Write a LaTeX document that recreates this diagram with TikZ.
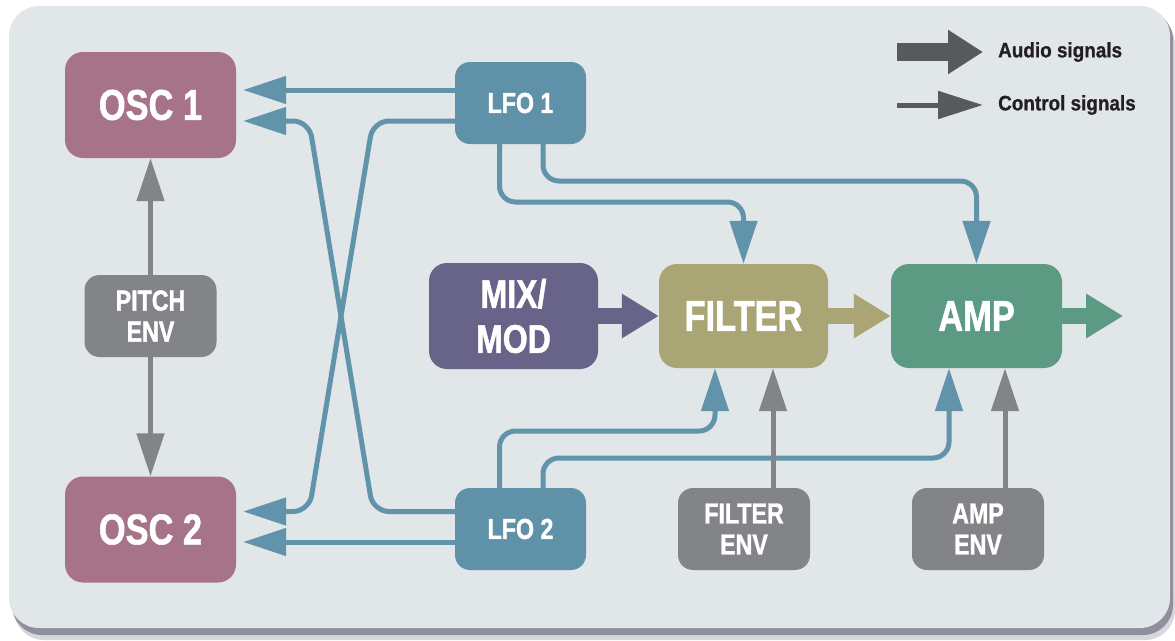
\documentclass[tikz,border=0pt]{standalone}
\usepackage{fontspec}
\setmainfont{Liberation Sans}
\newfontfamily\condfont[FakeStretch=0.8,BoldFeatures={FakeBold=1.3}]{Liberation Sans}
\newfontfamily\legfont[FakeStretch=0.9,BoldFeatures={FakeBold=0.8}]{Liberation Sans}
\usetikzlibrary{arrows.meta}
\definecolor{panelc}{HTML}{E1E6E8}
\definecolor{shadowc}{HTML}{8E909C}
\definecolor{oscc}{HTML}{A67389}
\definecolor{lfoc}{HTML}{5F91A8}
\definecolor{ctrlc}{HTML}{6194AB}
\definecolor{mixc}{HTML}{686388}
\definecolor{filtc}{HTML}{A9A575}
\definecolor{ampc}{HTML}{5D9A83}
\definecolor{envc}{HTML}{838488}
\definecolor{legc}{HTML}{58595B}
\definecolor{legtext}{HTML}{231F20}
\begin{document}
\begin{tikzpicture}[x=1pt,y=-1pt,
  bigbox/.style={rounded corners=18pt, text=white, inner sep=0pt,
    minimum width=171pt, minimum height=106pt, align=center,
    font=\condfont\bfseries\fontsize{43}{45}\selectfont},
  smallbox/.style={rounded corners=15pt, text=white, inner sep=0pt,
    minimum width=132pt, minimum height=82pt, align=center,
    font=\condfont\bfseries\fontsize{29}{31}\selectfont},
  ctrl/.style={draw=ctrlc, line width=5pt, rounded corners=16pt,
    -{Triangle[length=43pt,width=27pt]}},
  ctrlg/.style={draw=envc, line width=5pt,
    -{Triangle[length=43pt,width=27pt]}},
  audio/.style={line width=16pt, -{Triangle[length=37pt,width=42pt]}},
  legtxt/.style={anchor=west, inner sep=0pt, text=legtext,
    font=\legfont\bfseries\fontsize{21}{22}\selectfont}
]
\useasboundingbox (0,0) rectangle (1175,640);
% panel with shadow
\fill[shadowc, opacity=.35, rounded corners=30pt] (14,14) rectangle (1175,640);
\fill[shadowc, rounded corners=30pt] (12,10) rectangle (1173,635);
\fill[panelc, rounded corners=30pt] (9,6) rectangle (1170,628);

% nodes
\node[bigbox, fill=oscc] (osc1) at (150.5,105) {OSC 1};
\node[bigbox, fill=oscc] (osc2) at (150.5,529.5) {OSC 2};
\node[smallbox, fill=envc] (pitch) at (150.5,316) {PITCH\\ENV};
\node[smallbox, fill=lfoc, minimum width=131pt] (lfo1) at (520.5,103) {LFO 1};
\node[smallbox, fill=lfoc, minimum width=131pt] (lfo2) at (520.5,529) {LFO 2};
\node[bigbox, fill=mixc, minimum width=169pt,
  font=\condfont\bfseries\fontsize{40}{45}\selectfont] (mix) at (513.5,316) {MIX/\\MOD};
\node[bigbox, fill=filtc, minimum width=169pt, minimum height=104pt] (filter) at (743.5,316) {FILTER};
\node[bigbox, fill=ampc, minimum height=104pt] (amp) at (976.5,316) {AMP};
\node[smallbox, fill=envc] (fenv) at (744,529) {FILTER\\ENV};
\node[smallbox, fill=envc] (aenv) at (978,529) {AMP\\ENV};

% ports and levels
\coordinate (fB1) at ([xshift=-28.5pt]filter.south);
\coordinate (fB2) at ([xshift=29.5pt]filter.south);
\coordinate (aB1) at ([xshift=-27.5pt]amp.south);
\coordinate (aB2) at ([xshift=28.5pt]amp.south);
\coordinate (l1a) at ([xshift=-21pt]lfo1.south);
\coordinate (l1b) at ([xshift=22.5pt]lfo1.south);
\coordinate (l2a) at ([xshift=-21pt]lfo2.north);
\coordinate (l2b) at ([xshift=22.5pt]lfo2.north);
\coordinate (r1) at (0,202);
\coordinate (r2) at (0,181);
\coordinate (r3) at (0,431);
\coordinate (r4) at (0,458);
\coordinate (o1a) at ([xshift=7pt,yshift=15pt]osc1.east);
\coordinate (o1b) at ([xshift=7pt,yshift=-16pt]osc1.east);
\coordinate (o2a) at ([xshift=7pt,yshift=18pt]osc2.east);
\coordinate (o2b) at ([xshift=7pt,yshift=-12.5pt]osc2.east);
\coordinate (xa1) at (373,121);
\coordinate (xa2) at (309,511.5);
\coordinate (xb1) at (373,511.5);
\coordinate (xb2) at (309,121);
\coordinate (out) at ([xshift=61pt]amp.east);

% control connections
\draw[ctrl] (lfo1.west |- o1a) -- (o1a);
\draw[ctrl] (lfo1.west |- o1b) -- (xa1) -- (xa2) -- (o2a);
\draw[ctrl] (lfo2.west |- o2a) -- (xb1) -- (xb2) -- (o1b);
\draw[ctrl] (lfo2.west |- o2b) -- (o2b);
\draw[ctrl] (l1a) |- (filter.north |- r1) -- (filter.north);
\draw[ctrl] (l1b) |- (amp.north |- r2) -- (amp.north);
\draw[ctrl] (l2a) |- (fB1 |- r3) -- (fB1);
\draw[ctrl] (l2b) |- (aB1 |- r4) -- (aB1);
\draw[ctrlg] (fenv.north -| fB2) -- (fB2);
\draw[ctrlg] (aenv.north -| aB2) -- (aB2);
\draw[ctrlg] (pitch.north) -- (osc1.south);
\draw[ctrlg] (pitch.south) -- (osc2.north);

% audio connections
\draw[audio, draw=mixc, fill=mixc] (mix.east) -- (filter.west);
\draw[audio, draw=filtc, fill=filtc] (filter.east) -- (amp.west);
\draw[audio, draw=ampc, fill=ampc] (amp.east) -- (out);

% legend
\coordinate (la1) at (897,52);
\coordinate (la2) at (983,52);
\coordinate (lc1) at (897,105);
\coordinate (lc2) at (983,105);
\draw[draw=legc, line width=18pt, -{Triangle[length=35pt,width=42pt]}] (la1) -- (la2);
\draw[draw=legc, line width=5pt, -{Triangle[length=45pt,width=27pt]}] (lc1) -- (lc2);
\node[legtxt] (lega) at (998,52) {Audio signals};
\node[legtxt] (legb) at (998,105) {Control signals};
\end{tikzpicture}
\end{document}
